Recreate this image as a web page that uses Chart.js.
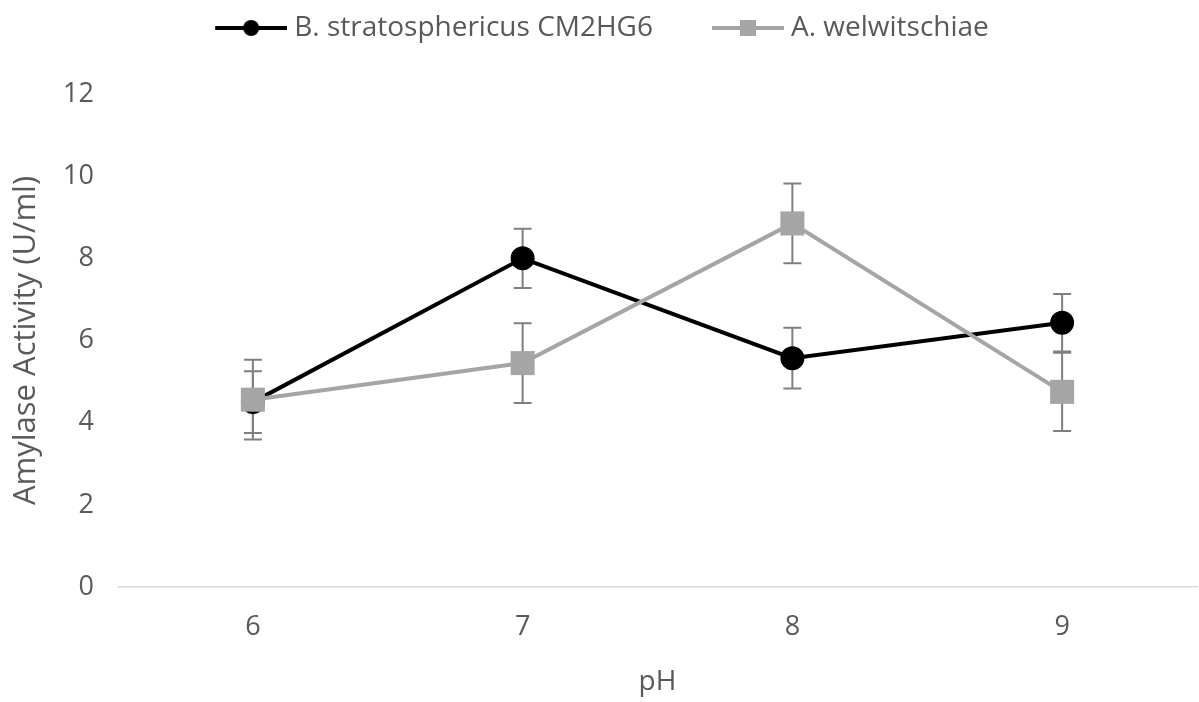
<!DOCTYPE html>
<html>
<head>
<meta charset="utf-8">
<script src="https://cdn.jsdelivr.net/npm/chart.js@4.4.0/dist/chart.umd.min.js"></script>
<style>
  html, body { margin: 0; padding: 0; background: #fff; }
  #chart { display: block; }
</style>
</head>
<body>
<canvas id="chart" width="1199" height="702"></canvas>
<script>
const phLevels = ['6', '7', '8', '9'];
const bStratosphericus = [4.5, 8.0, 5.57, 6.43];
const bStratosphericusErr = [0.75, 0.72, 0.74, 0.7];
const aWelwitschiae = [4.56, 5.45, 8.85, 4.75];
const aWelwitschiaeErr = [0.97, 0.97, 0.97, 0.95];
const yTicks = [0, 2, 4, 6, 8, 10, 12];

const textColor = '#595959';
const fontFamily = '"Open Sans", sans-serif';

// little line + marker pictures for the legend (line sits in the right 72px)
function legendSymbol(color, shape) {
  const c = document.createElement('canvas');
  c.width = 86;
  c.height = 24;
  const g = c.getContext('2d');
  g.strokeStyle = color;
  g.fillStyle = color;
  g.lineWidth = 4;
  g.beginPath();
  g.moveTo(14, 12);
  g.lineTo(86, 12);
  g.stroke();
  if (shape === 'circle') {
    g.beginPath();
    g.arc(50, 12, 8, 0, Math.PI * 2);
    g.fill();
  } else {
    g.fillRect(42, 4, 16, 16);
  }
  return c;
}
const legendSymbols = [legendSymbol('#000000', 'circle'), legendSymbol('#a5a5a5', 'rect')];

const errorBars = {
  id: 'errorBars',
  beforeDatasetsDraw(chart) {
    const ctx = chart.ctx;
    const y = chart.scales.y;
    ctx.save();
    ctx.strokeStyle = '#7f7f7f';
    ctx.lineWidth = 2;
    chart.data.datasets.forEach((ds, i) => {
      chart.getDatasetMeta(i).data.forEach((pt, j) => {
        const top = y.getPixelForValue(ds.data[j] + ds.errors[j]);
        const bottom = y.getPixelForValue(ds.data[j] - ds.errors[j]);
        ctx.beginPath();
        ctx.moveTo(pt.x, top);
        ctx.lineTo(pt.x, bottom);
        ctx.moveTo(pt.x - 9, top);
        ctx.lineTo(pt.x + 9, top);
        ctx.moveTo(pt.x - 9, bottom);
        ctx.lineTo(pt.x + 9, bottom);
        ctx.stroke();
      });
    });
    ctx.restore();
  }
};

// push the plot down below the legend, and lift the legend row back up
const legendSpacing = {
  id: 'legendSpacing',
  beforeInit(chart) {
    const fit = chart.legend.fit;
    chart.legend.fit = function () {
      fit.call(this);
      this.height = 94;
    };
  },
  afterLayout(chart) {
    chart.legend.top -= 38;
  }
};

new Chart(document.getElementById('chart'), {
  type: 'line',
  data: {
    labels: phLevels,
    datasets: [{
      label: 'B. stratosphericus CM2HG6',
      data: bStratosphericus,
      errors: bStratosphericusErr,
      borderColor: '#000000',
      backgroundColor: '#000000',
      borderWidth: 4,
      pointStyle: 'circle',
      pointRadius: 11,
      pointBorderWidth: 2,
      order: 1
    }, {
      label: 'A. welwitschiae',
      data: aWelwitschiae,
      errors: aWelwitschiaeErr,
      borderColor: '#a5a5a5',
      backgroundColor: '#a5a5a5',
      borderWidth: 4,
      pointStyle: 'rect',
      pointRadius: 17,
      pointBorderWidth: 0,
      order: 0
    }]
  },
  options: {
    responsive: false,
    animation: false,
    layout: { autoPadding: false, padding: { left: 0, right: 2, top: 0, bottom: 0 } },
    plugins: {
      tooltip: { enabled: false },
      legend: {
        position: 'top',
        labels: {
          usePointStyle: true,
          pointStyleWidth: 72,
          padding: 52,
          color: textColor,
          font: { family: fontFamily, size: 28 },
          sort: (a, b) => a.datasetIndex - b.datasetIndex,
          generateLabels(chart) {
            const items = Chart.defaults.plugins.legend.labels.generateLabels(chart);
            items.forEach(it => { it.pointStyle = legendSymbols[it.datasetIndex]; });
            return items;
          }
        }
      }
    },
    scales: {
      x: {
        offset: true,
        grid: { display: false, drawTicks: false },
        border: { display: true, color: '#d9d9d9', width: 1.5 },
        ticks: { color: textColor, font: { family: fontFamily, size: 27 }, padding: 24 },
        title: {
          display: true,
          text: 'pH',
          color: textColor,
          font: { family: fontFamily, size: 28 },
          padding: { top: 0, bottom: 3 }
        },
        afterFit(s) {
          s.height = 115;
          s.paddingLeft = 0;
          s.paddingRight = 0;
        }
      },
      y: {
        min: 0,
        max: 12,
        afterBuildTicks(s) { s.ticks = yTicks.map(v => ({ value: v })); },
        grid: { display: false, drawTicks: false },
        border: { display: false },
        ticks: { color: textColor, font: { family: fontFamily, size: 27 }, padding: 24 },
        title: {
          display: true,
          text: 'Amylase Activity (U/ml)',
          color: textColor,
          font: { family: fontFamily, size: 31 },
          padding: { top: 8, bottom: 0 }
        },
        afterFit(s) { s.width = 118; }
      }
    }
  },
  plugins: [errorBars, legendSpacing]
});
</script>
</body>
</html>
